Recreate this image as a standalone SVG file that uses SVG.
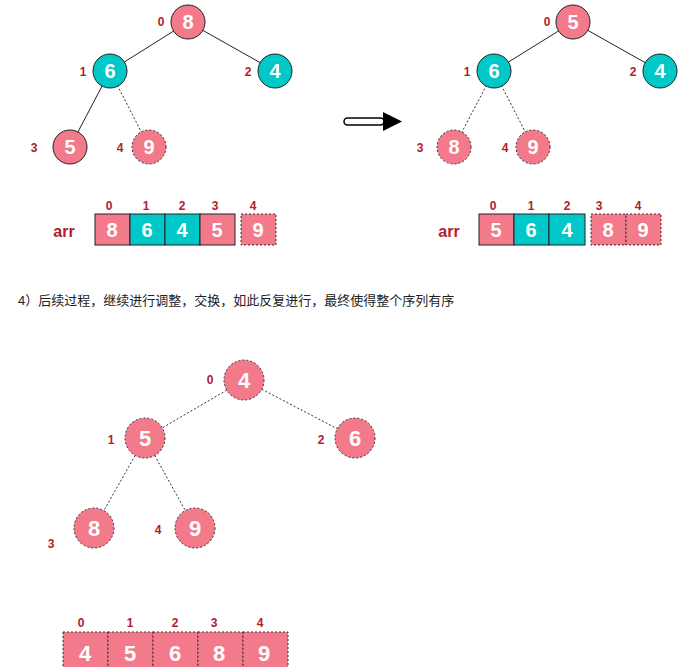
<svg xmlns="http://www.w3.org/2000/svg" width="690" height="667" viewBox="0 0 690 667">
<style>
.p{fill:#f27a8a}.t{fill:#00c8c8}
.s{stroke:#222;stroke-width:1}
.d{stroke:#333;stroke-width:1;stroke-dasharray:2,2}
.v{font-family:"Liberation Sans",Arial,sans-serif;font-weight:bold;fill:#fff;text-anchor:middle}
.i{font-family:"Liberation Sans",Arial,sans-serif;font-weight:bold;fill:#b0202e;text-anchor:middle;font-size:12px}
.e{stroke:#222;stroke-width:1;fill:none}
.ed{stroke:#333;stroke-width:1;fill:none;stroke-dasharray:2,2}
</style>
<rect width="690" height="667" fill="#fff"/>
<g id="connectors">
<line class="e" x1="188" y1="22" x2="110" y2="71"/><line class="e" x1="188" y1="22" x2="275" y2="71"/>
<line class="e" x1="110" y1="71" x2="70" y2="147"/><line class="ed" x1="110" y1="71" x2="149" y2="147"/>
<line class="e" x1="573" y1="22" x2="494" y2="71"/><line class="e" x1="573" y1="22" x2="660" y2="71"/>
<line class="ed" x1="494" y1="71" x2="454" y2="147"/><line class="ed" x1="494" y1="71" x2="533" y2="147"/>
<line class="ed" x1="244" y1="380" x2="145" y2="438"/><line class="ed" x1="244" y1="380" x2="355" y2="438"/>
<line class="ed" x1="145" y1="438" x2="94" y2="528"/><line class="ed" x1="145" y1="438" x2="195" y2="528"/>
</g>
<g id="arrow"><rect x="344" y="118" width="40" height="7" rx="3.5" fill="#fff" stroke="#000" stroke-width="1.5"/><polygon points="383,112 402,121.5 383,131" fill="#000"/></g>
<g id="tree1" font-size="20">
<g id="a0"><circle cx="188" cy="22" r="17" class="p s"/><text class="v" x="188" y="29" font-size="20">8</text><text class="i" x="161" y="26">0</text></g>
<g id="a1"><circle cx="110" cy="71" r="17" class="t s"/><text class="v" x="110" y="78" font-size="20">6</text><text class="i" x="83" y="76">1</text></g>
<g id="a2"><circle cx="275" cy="71" r="17" class="t s"/><text class="v" x="275" y="78" font-size="20">4</text><text class="i" x="248" y="76">2</text></g>
<g id="a3"><circle cx="70" cy="147" r="17" class="p s"/><text class="v" x="70" y="154" font-size="20">5</text><text class="i" x="34" y="152">3</text></g>
<g id="a4"><circle cx="149" cy="147" r="17" class="p d"/><text class="v" x="149" y="154" font-size="20">9</text><text class="i" x="120" y="152">4</text></g>
</g>
<g id="arr1">
<text x="64" y="237" font-family="Liberation Sans,Arial,sans-serif" font-weight="bold" font-size="16" fill="#b0202e" text-anchor="middle">arr</text>
<rect x="95" y="214" width="35" height="31" class="p s"/><rect x="130" y="214" width="35" height="31" class="t s"/><rect x="165" y="214" width="35" height="31" class="t s"/><rect x="200" y="214" width="35" height="31" class="p s"/><rect x="241" y="214" width="35" height="31" class="p d"/>
<text class="v" font-size="20" x="112" y="237">8</text><text class="v" font-size="20" x="147" y="237">6</text><text class="v" font-size="20" x="182" y="237">4</text><text class="v" font-size="20" x="217" y="237">5</text><text class="v" font-size="20" x="258" y="237">9</text>
<text class="i" x="109" y="210">0</text><text class="i" x="146" y="210">1</text><text class="i" x="182" y="210">2</text><text class="i" x="215" y="210">3</text><text class="i" x="253" y="210">4</text>
</g>
<g id="tree2">
<g id="b0"><circle cx="573" cy="22" r="17" class="p s"/><text class="v" x="573" y="29" font-size="20">5</text><text class="i" x="547" y="26">0</text></g>
<g id="b1"><circle cx="494" cy="71" r="17" class="t s"/><text class="v" x="494" y="78" font-size="20">6</text><text class="i" x="467" y="76">1</text></g>
<g id="b2"><circle cx="660" cy="71" r="17" class="t s"/><text class="v" x="660" y="78" font-size="20">4</text><text class="i" x="633" y="76">2</text></g>
<g id="b3"><circle cx="454" cy="147" r="17" class="p d"/><text class="v" x="454" y="154" font-size="20">8</text><text class="i" x="420" y="152">3</text></g>
<g id="b4"><circle cx="533" cy="147" r="17" class="p d"/><text class="v" x="533" y="154" font-size="20">9</text><text class="i" x="505" y="152">4</text></g>
</g>
<g id="arr2">
<text x="449" y="237" font-family="Liberation Sans,Arial,sans-serif" font-weight="bold" font-size="16" fill="#b0202e" text-anchor="middle">arr</text>
<rect x="479" y="214" width="35" height="31" class="p s"/><rect x="514" y="214" width="35" height="31" class="t s"/><rect x="549" y="214" width="36" height="31" class="t s"/><rect x="591" y="214" width="35" height="31" class="p d"/><rect x="626" y="214" width="35" height="31" class="p d"/>
<text class="v" font-size="20" x="496" y="237">5</text><text class="v" font-size="20" x="531" y="237">6</text><text class="v" font-size="20" x="567" y="237">4</text><text class="v" font-size="20" x="608" y="237">8</text><text class="v" font-size="20" x="643" y="237">9</text>
<text class="i" x="493" y="210">0</text><text class="i" x="531" y="210">1</text><text class="i" x="567" y="210">2</text><text class="i" x="599" y="210">3</text><text class="i" x="638" y="210">4</text>
</g>
<text x="18" y="305" font-family="Liberation Sans,'Noto Sans CJK SC',sans-serif" font-size="13" fill="#222">4）后续过程，继续进行调整，交换，如此反复进行，最终使得整个序列有序</text>
<g id="tree3">
<g id="c0"><circle cx="244" cy="380" r="20" class="p d"/><text class="v" x="244" y="388" font-size="22">4</text><text class="i" x="210" y="384" font-size="14">0</text></g>
<g id="c1"><circle cx="145" cy="438" r="20" class="p d"/><text class="v" x="145" y="446" font-size="22">5</text><text class="i" x="111" y="444" font-size="14">1</text></g>
<g id="c2"><circle cx="355" cy="438" r="20" class="p d"/><text class="v" x="355" y="446" font-size="22">6</text><text class="i" x="321" y="444" font-size="14">2</text></g>
<g id="c3"><circle cx="94" cy="528" r="20" class="p d"/><text class="v" x="94" y="536" font-size="22">8</text><text class="i" x="51" y="548" font-size="14">3</text></g>
<g id="c4"><circle cx="195" cy="528" r="20" class="p d"/><text class="v" x="195" y="536" font-size="22">9</text><text class="i" x="158" y="534" font-size="14">4</text></g>
</g>
<g id="arr3">
<rect x="63" y="632" width="45" height="40" class="p d"/><rect x="108" y="632" width="45" height="40" class="p d"/><rect x="153" y="632" width="45" height="40" class="p d"/><rect x="198" y="632" width="45" height="40" class="p d"/><rect x="243" y="632" width="45" height="40" class="p d"/>
<text class="v" font-size="22" x="85" y="661">4</text><text class="v" font-size="22" x="130" y="661">5</text><text class="v" font-size="22" x="175" y="661">6</text><text class="v" font-size="22" x="219" y="661">8</text><text class="v" font-size="22" x="264" y="661">9</text>
<text class="i" x="81" y="627" font-size="14">0</text><text class="i" x="130" y="627" font-size="14">1</text><text class="i" x="175" y="627" font-size="14">2</text><text class="i" x="214" y="627" font-size="14">3</text><text class="i" x="260" y="627" font-size="14">4</text>
</g>
</svg>
